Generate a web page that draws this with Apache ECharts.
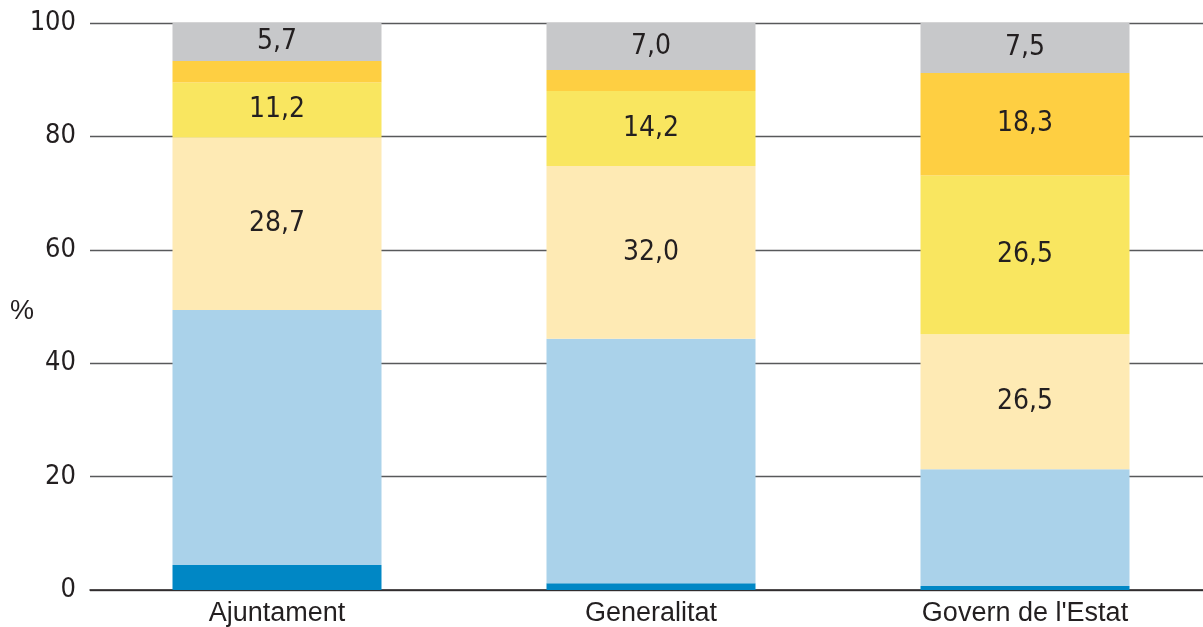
<!DOCTYPE html>
<html>
<head>
<meta charset="utf-8">
<script src="https://cdn.jsdelivr.net/npm/echarts@6/dist/echarts.min.js"></script>
<style>
html,body{margin:0;padding:0;background:#fff;overflow:hidden;}
#c{width:1213px;height:627px;}
</style>
</head>
<body>
<div id="c"></div>
<script>
// Categories
var categories = ['Ajuntament', 'Generalitat', "Govern de l'Estat"];
// Y-axis ticks
var yTicks = [0, 20, 40, 60, 80, 100];

// Segment heights (bottom to top), as drawn in the picture (%)
var darkBlue  = [4.4, 1.2, 0.7];
var lightBlue = [45.0, 43.1, 20.6];
var beige     = [30.4, 30.5, 23.8];
var yellow    = [9.7, 13.2, 28.0];
var orange    = [3.8, 3.7, 18.1];
var grey      = [6.7, 8.3, 8.8];

// Printed value labels as shown in the picture
var beigeLabels  = ['28,7', '32,0', '26,5'];
var yellowLabels = ['11,2', '14,2', '26,5'];
var orangeLabels = [null, null, '18,3'];
var greyLabels   = ['5,7', '7,0', '7,5'];

var numFont = '"DejaVu Sans Condensed", "Liberation Sans", sans-serif';
var txtFont = '"Liberation Sans", Arial, sans-serif';

function mk(name, data, color, labels) {
  return {
    name: name,
    type: 'bar',
    stack: 'total',
    barWidth: 209,
    data: data,
    itemStyle: { color: color },
    label: {
      show: !!labels,
      position: 'inside',
      fontFamily: numFont,
      fontSize: 28,
      color: '#231f20',
      formatter: function (p) { return labels && labels[p.dataIndex] ? labels[p.dataIndex] : ''; }
    },
    emphasis: { disabled: true }
  };
}

var chart = echarts.init(document.getElementById('c'), null, { renderer: 'canvas' });
chart.setOption({
  animation: false,
  backgroundColor: '#ffffff',
  grid: { left: 90, top: 23, bottom: 37, right: 1, containLabel: false },
  xAxis: {
    type: 'category',
    data: categories,
    axisTick: { show: false },
    axisLine: { show: true, lineStyle: { color: '#231f20', width: 1.5 } },
    axisLabel: { fontFamily: txtFont, fontSize: 27, color: '#231f20', margin: 10 }
  },
  yAxis: {
    type: 'value',
    min: yTicks[0],
    max: yTicks[yTicks.length - 1],
    interval: 20,
    axisLine: { show: false },
    axisTick: { show: false },
    splitLine: { lineStyle: { color: '#58595b', width: 1.3 } },
    axisLabel: { fontFamily: numFont, fontSize: 27, color: '#231f20', margin: 14 }
  },
  graphic: [{
    type: 'text',
    left: 10,
    top: 298,
    style: { text: '%', font: '27px ' + txtFont, fill: '#231f20' }
  }],
  series: [
    mk('darkBlue', darkBlue, '#0087c5', null),
    mk('lightBlue', lightBlue, '#aad2ea', null),
    mk('beige', beige, '#feeab4', beigeLabels),
    mk('yellow', yellow, '#f9e660', yellowLabels),
    mk('orange', orange, '#fecf42', orangeLabels),
    mk('grey', grey, '#c7c8ca', greyLabels)
  ]
});
</script>
</body>
</html>
